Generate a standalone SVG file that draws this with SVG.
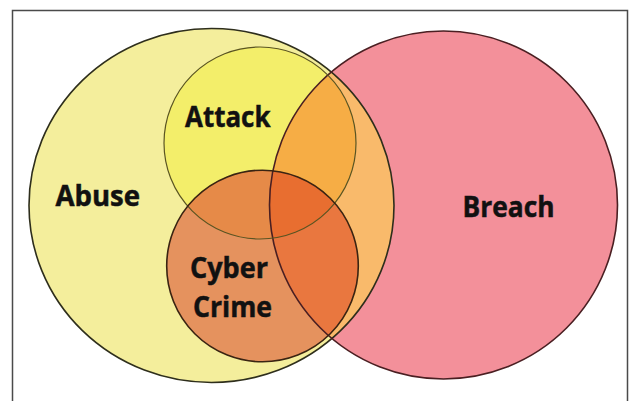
<svg xmlns="http://www.w3.org/2000/svg" width="631" height="401" viewBox="0 0 631 401">
  <style>
    .label { font-family: "Open Sans", "Liberation Sans", sans-serif; font-weight: 700; font-size: 29px; fill: #111; stroke: #111; stroke-width: 0.5; }
    .outline { fill: none; }
  </style>
  <defs>
    <ellipse id="shape-abuse" cx="211.5" cy="205.5" rx="182.5" ry="177"/>
    <ellipse id="shape-breach" cx="443.5" cy="205" rx="174" ry="174"/>
    <circle id="shape-attack" cx="260" cy="143" r="96"/>
    <circle id="shape-cyber" cx="262.5" cy="266" r="95.8"/>
    <clipPath id="clip-abuse"><use href="#shape-abuse"/></clipPath>
    <clipPath id="clip-breach"><use href="#shape-breach"/></clipPath>
    <clipPath id="clip-attack"><use href="#shape-attack"/></clipPath>
  </defs>

  <rect width="631" height="401" fill="#ffffff"/>
  <!-- open frame: left, top and right edges -->
  <path d="M12.5 401 V10.5 H627.5 V401" fill="none" stroke="#4a4a4a" stroke-width="1.5"/>

  <!-- filled regions, one colour per overlap -->
  <g id="regions">
    <use href="#shape-abuse" fill="#F4EE9C"/>
    <use href="#shape-breach" fill="#F3909A"/>
    <use href="#shape-breach" fill="#F9BA6B" clip-path="url(#clip-abuse)"/>
    <use href="#shape-attack" fill="#F3EE6A"/>
    <use href="#shape-attack" fill="#F6AD45" clip-path="url(#clip-breach)"/>
    <use href="#shape-cyber" fill="#E5925E"/>
    <use href="#shape-cyber" fill="#E68A48" clip-path="url(#clip-attack)"/>
    <use href="#shape-cyber" fill="#E9773F" clip-path="url(#clip-breach)"/>
    <g clip-path="url(#clip-breach)">
      <use href="#shape-cyber" fill="#E86E30" clip-path="url(#clip-attack)"/>
    </g>
  </g>

  <!-- connectors: none in this diagram -->
  <g id="connectors"/>

  <g id="abuse">
    <use href="#shape-abuse" class="outline" stroke="#2e2e1c" stroke-width="1.6"/>
    <text class="label" x="55.5" y="206" textLength="84.5" lengthAdjust="spacingAndGlyphs">Abuse</text>
  </g>
  <g id="breach">
    <use href="#shape-breach" class="outline" stroke="#4a1f22" stroke-width="1.6"/>
    <text class="label" x="462.5" y="217" textLength="92" lengthAdjust="spacingAndGlyphs">Breach</text>
  </g>
  <g id="attack">
    <use href="#shape-attack" class="outline" stroke="#5a5422" stroke-width="1.2"/>
    <text class="label" x="185" y="127" textLength="85.5" lengthAdjust="spacingAndGlyphs">Attack</text>
  </g>
  <g id="cyber-crime">
    <use href="#shape-cyber" class="outline" stroke="#3a2412" stroke-width="1.6"/>
    <text class="label" x="190" y="277.5" textLength="78" lengthAdjust="spacingAndGlyphs">Cyber</text>
    <text class="label" x="193" y="316.5" textLength="79" lengthAdjust="spacingAndGlyphs">Crime</text>
  </g>
</svg>
